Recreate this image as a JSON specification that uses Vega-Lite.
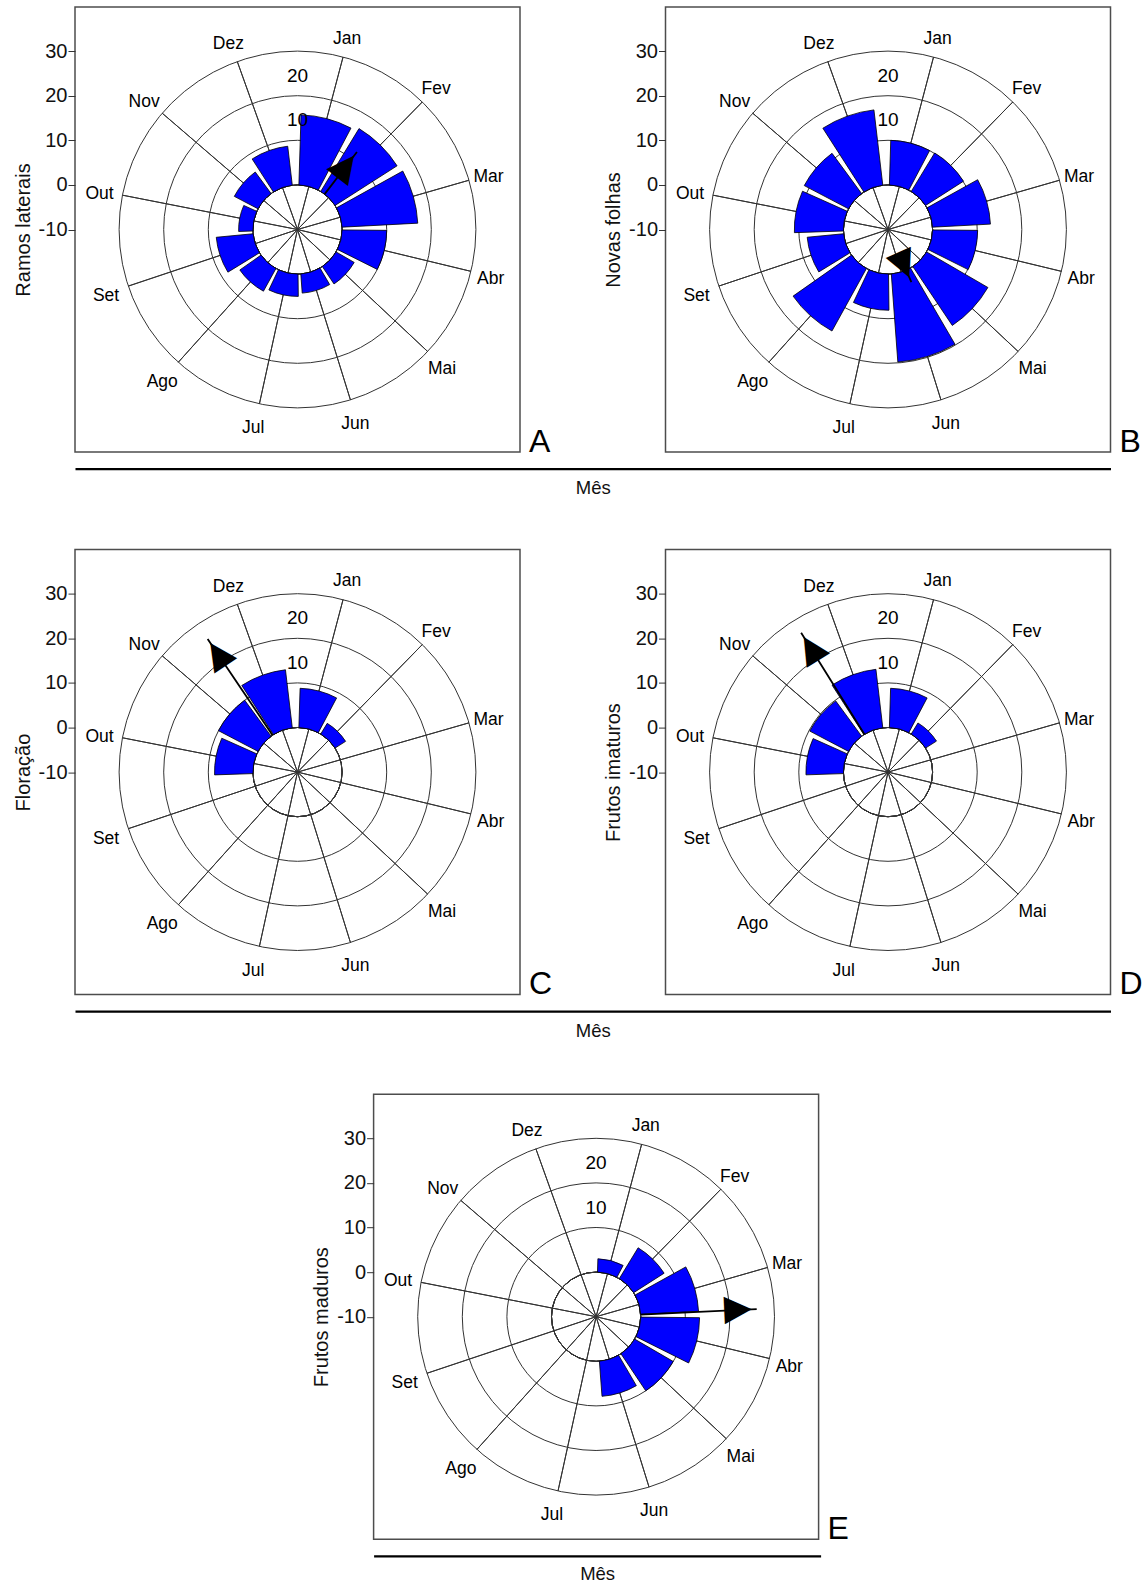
{
  "$schema": "https://vega.github.io/schema/vega-lite/v6.json",
  "padding": {"left": 12, "top": 6, "right": 0, "bottom": 0},
  "config": {
    "view": {"stroke": "#4d4d4d", "strokeWidth": 1.5},
    "font": "Liberation Sans",
    "axis": {"labelFont": "Liberation Sans", "titleFont": "Liberation Sans", "titleFontWeight": "normal", "labelColor": "#111", "titleColor": "#111"},
    "title": {"font": "Liberation Sans", "fontWeight": "normal", "color": "#000"}
  },
  "datasets": {
    "meses": [
      {"mes": "Jan", "ini": 1.8, "meio": 15, "fim": 28.2, "ramos": 15.7, "folhas": 10.0, "floracao": 8.8, "imaturos": 8.8, "maduros": 3.0},
      {"mes": "Fev", "ini": 31.8, "meio": 45, "fim": 58.2, "ramos": 16.5, "folhas": 10.1, "floracao": 2.8, "imaturos": 2.9, "maduros": 8.1},
      {"mes": "Mar", "ini": 61.8, "meio": 75, "fim": 88.2, "ramos": 17.0, "folhas": 13.0, "floracao": 0, "imaturos": 0, "maduros": 13.0},
      {"mes": "Abr", "ini": 91.8, "meio": 105, "fim": 118.2, "ramos": 10.0, "folhas": 10.1, "floracao": 0, "imaturos": 0, "maduros": 13.2},
      {"mes": "Mai", "ini": 121.8, "meio": 135, "fim": 148.2, "ramos": 4.7, "folhas": 15.9, "floracao": 0, "imaturos": 0, "maduros": 10.0},
      {"mes": "Jun", "ini": 151.8, "meio": 165, "fim": 178.2, "ramos": 4.3, "folhas": 19.8, "floracao": 0, "imaturos": 0, "maduros": 7.9},
      {"mes": "Jul", "ini": 181.8, "meio": 195, "fim": 208.2, "ramos": 5.0, "folhas": 8.1, "floracao": 0, "imaturos": 0, "maduros": 0},
      {"mes": "Ago", "ini": 211.8, "meio": 225, "fim": 238.2, "ramos": 5.8, "folhas": 16.0, "floracao": 0, "imaturos": 0, "maduros": 0},
      {"mes": "Set", "ini": 241.8, "meio": 255, "fim": 268.2, "ramos": 8.3, "folhas": 8.2, "floracao": 0, "imaturos": 0, "maduros": 0},
      {"mes": "Out", "ini": 271.8, "meio": 285, "fim": 298.2, "ramos": 3.2, "folhas": 11.0, "floracao": 8.6, "imaturos": 8.4, "maduros": 0},
      {"mes": "Nov", "ini": 301.8, "meio": 315, "fim": 328.2, "ramos": 6.0, "folhas": 11.2, "floracao": 10.0, "imaturos": 9.8, "maduros": 0},
      {"mes": "Dez", "ini": 331.8, "meio": 345, "fim": 358.2, "ramos": 8.8, "folhas": 17.0, "floracao": 13.1, "imaturos": 13.2, "maduros": 0}
    ],
    "setas": [
      {"painel": "A", "dir": 38.0, "rho": 11.9},
      {"painel": "B", "dir": 158.2, "rho": 2.9},
      {"painel": "C", "dir": 330.5, "rho": 26.0},
      {"painel": "D", "dir": 332.6, "rho": 26.8},
      {"painel": "E", "dir": 88.5, "rho": 26.05}
    ],
    "aneis": [{"r": 0}, {"r": 10}, {"r": 20}, {"r": 30}],
    "rotulos": [{"r": 10}, {"r": 20}]
  },
  "vconcat": [
    {
      "hconcat": [
        {
          "width": 445, "height": 445,
          "title": {"text": "A", "orient": "top", "anchor": "end", "frame": "group", "align": "left", "baseline": "alphabetic", "offset": -476.5, "dx": 9, "fontSize": 32},
          "layer": [
            {"data": {"values": [{}]}, "mark": {"type": "point", "opacity": 0}, "encoding": {
              "y": {"datum": 0, "type": "quantitative", "scale": {"domain": [-59.9, 39.9], "nice": false, "zero": false}, "axis": {"values": [-10, 0, 10, 20, 30], "labelExpr": "'' + datum.value", "title": "Ramos laterais", "grid": false, "domain": false, "tickSize": 7, "tickColor": "#333", "labelFontSize": 20, "labelPadding": 1, "titleFontSize": 20, "titlePadding": 5, "labelOverlap": false, "labelFlush": false}},
              "x": {"datum": 0, "type": "quantitative", "scale": {"domain": [0, 1], "range": [0, 1035.5]}, "axis": {"orient": "bottom", "offset": 16.6, "title": "Mês", "domain": true, "domainColor": "#000", "domainWidth": 2.2, "ticks": false, "labels": false, "grid": false, "titleFontSize": 18.5, "titlePadding": 10, "titleColor": "#111"}}}},
            {"data": {"name": "aneis"}, "mark": {"type": "arc", "fill": "transparent", "stroke": "#333", "strokeWidth": 1}, "encoding": {"theta": {"datum": 0, "type": "quantitative", "scale": {"domain": [0, 365]}, "stack": null}, "theta2": {"datum": 365}, "radius": {"field": "r", "type": "quantitative", "stack": null, "scale": {"type": "linear", "domain": [-10, 30], "range": [0, 178.4], "zero": false, "nice": false}}}},
            {"data": {"name": "meses"}, "mark": {"type": "arc", "fill": "transparent", "stroke": "#333", "strokeWidth": 1}, "encoding": {"theta": {"field": "meio", "type": "quantitative", "scale": {"domain": [0, 365]}, "stack": null}, "theta2": {"field": "meio"}, "radius": {"datum": 30, "type": "quantitative", "stack": null, "scale": {"type": "linear", "domain": [-10, 30], "range": [0, 178.4], "zero": false, "nice": false}}, "radius2": {"datum": -10}}},
            {"data": {"name": "meses"}, "transform": [{"filter": "datum.ramos > 0"}], "mark": {"type": "arc", "fill": "#0000ff", "stroke": "#000", "strokeWidth": 0.8}, "encoding": {"theta": {"field": "ini", "type": "quantitative", "scale": {"domain": [0, 365]}, "stack": null}, "theta2": {"field": "fim"}, "radius": {"field": "ramos", "type": "quantitative", "stack": null, "scale": {"type": "linear", "domain": [-10, 30], "range": [0, 178.4], "zero": false, "nice": false}}, "radius2": {"datum": 0}}},
            {"data": {"name": "setas"}, "transform": [{"filter": "datum.painel == 'A'"}], "mark": {"type": "arc", "fill": "transparent", "stroke": "#000", "strokeWidth": 1.8}, "encoding": {"theta": {"field": "dir", "type": "quantitative", "scale": {"domain": [0, 365]}, "stack": null}, "theta2": {"field": "dir"}, "radius": {"field": "rho", "type": "quantitative", "stack": null, "scale": {"type": "linear", "domain": [-10, 30], "range": [0, 178.4], "zero": false, "nice": false}}, "radius2": {"datum": 0}}},
            {"data": {"name": "setas"}, "transform": [{"filter": "datum.painel == 'A'"}], "mark": {"type": "text", "text": "▲", "font": "DejaVu Sans", "fontSize": 36, "align": "center", "baseline": "top", "color": "#000"}, "encoding": {"theta": {"field": "dir", "type": "quantitative", "scale": {"domain": [0, 365]}, "stack": null}, "radius": {"field": "rho", "type": "quantitative", "stack": null, "scale": {"type": "linear", "domain": [-10, 30], "range": [0, 178.4], "zero": false, "nice": false}}, "angle": {"field": "dir", "type": "quantitative", "scale": {"domain": [0, 365], "range": [0, 360]}, "legend": null}}},
            {"data": {"name": "meses"}, "mark": {"type": "text", "fontSize": 17.5, "align": "center", "baseline": "middle", "dx": -1.5, "dy": 3, "color": "#000"}, "encoding": {"theta": {"field": "meio", "type": "quantitative", "scale": {"domain": [0, 365]}, "stack": null}, "radius": {"datum": 34.9, "type": "quantitative", "stack": null, "scale": {"type": "linear", "domain": [-10, 30], "range": [0, 178.4], "zero": false, "nice": false}}, "text": {"field": "mes", "type": "nominal"}}},
            {"data": {"name": "rotulos"}, "mark": {"type": "text", "fontSize": 19, "align": "center", "baseline": "middle", "dy": -20, "color": "#000"}, "encoding": {"theta": {"datum": 0, "type": "quantitative", "scale": {"domain": [0, 365]}, "stack": null}, "radius": {"field": "r", "type": "quantitative", "stack": null, "scale": {"type": "linear", "domain": [-10, 30], "range": [0, 178.4], "zero": false, "nice": false}}, "text": {"field": "r", "type": "quantitative"}}}
          ]
        },
        {
          "width": 445, "height": 445,
          "title": {"text": "B", "orient": "top", "anchor": "end", "frame": "group", "align": "left", "baseline": "alphabetic", "offset": -476.5, "dx": 9, "fontSize": 32},
          "layer": [
            {"data": {"values": [{}]}, "mark": {"type": "point", "opacity": 0}, "encoding": {
              "y": {"datum": 0, "type": "quantitative", "scale": {"domain": [-59.9, 39.9], "nice": false, "zero": false}, "axis": {"values": [-10, 0, 10, 20, 30], "labelExpr": "'' + datum.value", "title": "Novas folhas", "grid": false, "domain": false, "tickSize": 7, "tickColor": "#333", "labelFontSize": 20, "labelPadding": 1, "titleFontSize": 20, "titlePadding": 5, "labelOverlap": false, "labelFlush": false}}}},
            {"data": {"name": "aneis"}, "mark": {"type": "arc", "fill": "transparent", "stroke": "#333", "strokeWidth": 1}, "encoding": {"theta": {"datum": 0, "type": "quantitative", "scale": {"domain": [0, 365]}, "stack": null}, "theta2": {"datum": 365}, "radius": {"field": "r", "type": "quantitative", "stack": null, "scale": {"type": "linear", "domain": [-10, 30], "range": [0, 178.4], "zero": false, "nice": false}}}},
            {"data": {"name": "meses"}, "mark": {"type": "arc", "fill": "transparent", "stroke": "#333", "strokeWidth": 1}, "encoding": {"theta": {"field": "meio", "type": "quantitative", "scale": {"domain": [0, 365]}, "stack": null}, "theta2": {"field": "meio"}, "radius": {"datum": 30, "type": "quantitative", "stack": null, "scale": {"type": "linear", "domain": [-10, 30], "range": [0, 178.4], "zero": false, "nice": false}}, "radius2": {"datum": -10}}},
            {"data": {"name": "meses"}, "transform": [{"filter": "datum.folhas > 0"}], "mark": {"type": "arc", "fill": "#0000ff", "stroke": "#000", "strokeWidth": 0.8}, "encoding": {"theta": {"field": "ini", "type": "quantitative", "scale": {"domain": [0, 365]}, "stack": null}, "theta2": {"field": "fim"}, "radius": {"field": "folhas", "type": "quantitative", "stack": null, "scale": {"type": "linear", "domain": [-10, 30], "range": [0, 178.4], "zero": false, "nice": false}}, "radius2": {"datum": 0}}},
            {"data": {"name": "setas"}, "transform": [{"filter": "datum.painel == 'B'"}], "mark": {"type": "arc", "fill": "transparent", "stroke": "#000", "strokeWidth": 1.8}, "encoding": {"theta": {"field": "dir", "type": "quantitative", "scale": {"domain": [0, 365]}, "stack": null}, "theta2": {"field": "dir"}, "radius": {"field": "rho", "type": "quantitative", "stack": null, "scale": {"type": "linear", "domain": [-10, 30], "range": [0, 178.4], "zero": false, "nice": false}}, "radius2": {"datum": 0}}},
            {"data": {"name": "setas"}, "transform": [{"filter": "datum.painel == 'B'"}], "mark": {"type": "text", "text": "▲", "font": "DejaVu Sans", "fontSize": 36, "align": "center", "baseline": "top", "color": "#000"}, "encoding": {"theta": {"field": "dir", "type": "quantitative", "scale": {"domain": [0, 365]}, "stack": null}, "radius": {"field": "rho", "type": "quantitative", "stack": null, "scale": {"type": "linear", "domain": [-10, 30], "range": [0, 178.4], "zero": false, "nice": false}}, "angle": {"field": "dir", "type": "quantitative", "scale": {"domain": [0, 365], "range": [0, 360]}, "legend": null}}},
            {"data": {"name": "meses"}, "mark": {"type": "text", "fontSize": 17.5, "align": "center", "baseline": "middle", "dx": -1.5, "dy": 3, "color": "#000"}, "encoding": {"theta": {"field": "meio", "type": "quantitative", "scale": {"domain": [0, 365]}, "stack": null}, "radius": {"datum": 34.9, "type": "quantitative", "stack": null, "scale": {"type": "linear", "domain": [-10, 30], "range": [0, 178.4], "zero": false, "nice": false}}, "text": {"field": "mes", "type": "nominal"}}},
            {"data": {"name": "rotulos"}, "mark": {"type": "text", "fontSize": 19, "align": "center", "baseline": "middle", "dy": -20, "color": "#000"}, "encoding": {"theta": {"datum": 0, "type": "quantitative", "scale": {"domain": [0, 365]}, "stack": null}, "radius": {"field": "r", "type": "quantitative", "stack": null, "scale": {"type": "linear", "domain": [-10, 30], "range": [0, 178.4], "zero": false, "nice": false}}, "text": {"field": "r", "type": "quantitative"}}}
          ]
        }
      ],
      "spacing": 145.5, "bounds": "flush"
    },
    {
      "hconcat": [
        {
          "width": 445, "height": 445,
          "title": {"text": "C", "orient": "top", "anchor": "end", "frame": "group", "align": "left", "baseline": "alphabetic", "offset": -476.5, "dx": 9, "fontSize": 32},
          "layer": [
            {"data": {"values": [{}]}, "mark": {"type": "point", "opacity": 0}, "encoding": {
              "y": {"datum": 0, "type": "quantitative", "scale": {"domain": [-59.9, 39.9], "nice": false, "zero": false}, "axis": {"values": [-10, 0, 10, 20, 30], "labelExpr": "'' + datum.value", "title": "Floração", "grid": false, "domain": false, "tickSize": 7, "tickColor": "#333", "labelFontSize": 20, "labelPadding": 1, "titleFontSize": 20, "titlePadding": 5, "labelOverlap": false, "labelFlush": false}},
              "x": {"datum": 0, "type": "quantitative", "scale": {"domain": [0, 1], "range": [0, 1035.5]}, "axis": {"orient": "bottom", "offset": 16.6, "title": "Mês", "domain": true, "domainColor": "#000", "domainWidth": 2.2, "ticks": false, "labels": false, "grid": false, "titleFontSize": 18.5, "titlePadding": 10, "titleColor": "#111"}}}},
            {"data": {"name": "aneis"}, "mark": {"type": "arc", "fill": "transparent", "stroke": "#333", "strokeWidth": 1}, "encoding": {"theta": {"datum": 0, "type": "quantitative", "scale": {"domain": [0, 365]}, "stack": null}, "theta2": {"datum": 365}, "radius": {"field": "r", "type": "quantitative", "stack": null, "scale": {"type": "linear", "domain": [-10, 30], "range": [0, 178.4], "zero": false, "nice": false}}}},
            {"data": {"name": "meses"}, "mark": {"type": "arc", "fill": "transparent", "stroke": "#333", "strokeWidth": 1}, "encoding": {"theta": {"field": "meio", "type": "quantitative", "scale": {"domain": [0, 365]}, "stack": null}, "theta2": {"field": "meio"}, "radius": {"datum": 30, "type": "quantitative", "stack": null, "scale": {"type": "linear", "domain": [-10, 30], "range": [0, 178.4], "zero": false, "nice": false}}, "radius2": {"datum": -10}}},
            {"data": {"name": "meses"}, "transform": [{"filter": "datum.floracao > 0"}], "mark": {"type": "arc", "fill": "#0000ff", "stroke": "#000", "strokeWidth": 0.8}, "encoding": {"theta": {"field": "ini", "type": "quantitative", "scale": {"domain": [0, 365]}, "stack": null}, "theta2": {"field": "fim"}, "radius": {"field": "floracao", "type": "quantitative", "stack": null, "scale": {"type": "linear", "domain": [-10, 30], "range": [0, 178.4], "zero": false, "nice": false}}, "radius2": {"datum": 0}}},
            {"data": {"name": "setas"}, "transform": [{"filter": "datum.painel == 'C'"}], "mark": {"type": "arc", "fill": "transparent", "stroke": "#000", "strokeWidth": 1.8}, "encoding": {"theta": {"field": "dir", "type": "quantitative", "scale": {"domain": [0, 365]}, "stack": null}, "theta2": {"field": "dir"}, "radius": {"field": "rho", "type": "quantitative", "stack": null, "scale": {"type": "linear", "domain": [-10, 30], "range": [0, 178.4], "zero": false, "nice": false}}, "radius2": {"datum": 0}}},
            {"data": {"name": "setas"}, "transform": [{"filter": "datum.painel == 'C'"}], "mark": {"type": "text", "text": "▲", "font": "DejaVu Sans", "fontSize": 36, "align": "center", "baseline": "top", "color": "#000"}, "encoding": {"theta": {"field": "dir", "type": "quantitative", "scale": {"domain": [0, 365]}, "stack": null}, "radius": {"field": "rho", "type": "quantitative", "stack": null, "scale": {"type": "linear", "domain": [-10, 30], "range": [0, 178.4], "zero": false, "nice": false}}, "angle": {"field": "dir", "type": "quantitative", "scale": {"domain": [0, 365], "range": [0, 360]}, "legend": null}}},
            {"data": {"name": "meses"}, "mark": {"type": "text", "fontSize": 17.5, "align": "center", "baseline": "middle", "dx": -1.5, "dy": 3, "color": "#000"}, "encoding": {"theta": {"field": "meio", "type": "quantitative", "scale": {"domain": [0, 365]}, "stack": null}, "radius": {"datum": 34.9, "type": "quantitative", "stack": null, "scale": {"type": "linear", "domain": [-10, 30], "range": [0, 178.4], "zero": false, "nice": false}}, "text": {"field": "mes", "type": "nominal"}}},
            {"data": {"name": "rotulos"}, "mark": {"type": "text", "fontSize": 19, "align": "center", "baseline": "middle", "dy": -20, "color": "#000"}, "encoding": {"theta": {"datum": 0, "type": "quantitative", "scale": {"domain": [0, 365]}, "stack": null}, "radius": {"field": "r", "type": "quantitative", "stack": null, "scale": {"type": "linear", "domain": [-10, 30], "range": [0, 178.4], "zero": false, "nice": false}}, "text": {"field": "r", "type": "quantitative"}}}
          ]
        },
        {
          "width": 445, "height": 445,
          "title": {"text": "D", "orient": "top", "anchor": "end", "frame": "group", "align": "left", "baseline": "alphabetic", "offset": -476.5, "dx": 9, "fontSize": 32},
          "layer": [
            {"data": {"values": [{}]}, "mark": {"type": "point", "opacity": 0}, "encoding": {
              "y": {"datum": 0, "type": "quantitative", "scale": {"domain": [-59.9, 39.9], "nice": false, "zero": false}, "axis": {"values": [-10, 0, 10, 20, 30], "labelExpr": "'' + datum.value", "title": "Frutos imaturos", "grid": false, "domain": false, "tickSize": 7, "tickColor": "#333", "labelFontSize": 20, "labelPadding": 1, "titleFontSize": 20, "titlePadding": 5, "labelOverlap": false, "labelFlush": false}}}},
            {"data": {"name": "aneis"}, "mark": {"type": "arc", "fill": "transparent", "stroke": "#333", "strokeWidth": 1}, "encoding": {"theta": {"datum": 0, "type": "quantitative", "scale": {"domain": [0, 365]}, "stack": null}, "theta2": {"datum": 365}, "radius": {"field": "r", "type": "quantitative", "stack": null, "scale": {"type": "linear", "domain": [-10, 30], "range": [0, 178.4], "zero": false, "nice": false}}}},
            {"data": {"name": "meses"}, "mark": {"type": "arc", "fill": "transparent", "stroke": "#333", "strokeWidth": 1}, "encoding": {"theta": {"field": "meio", "type": "quantitative", "scale": {"domain": [0, 365]}, "stack": null}, "theta2": {"field": "meio"}, "radius": {"datum": 30, "type": "quantitative", "stack": null, "scale": {"type": "linear", "domain": [-10, 30], "range": [0, 178.4], "zero": false, "nice": false}}, "radius2": {"datum": -10}}},
            {"data": {"name": "meses"}, "transform": [{"filter": "datum.imaturos > 0"}], "mark": {"type": "arc", "fill": "#0000ff", "stroke": "#000", "strokeWidth": 0.8}, "encoding": {"theta": {"field": "ini", "type": "quantitative", "scale": {"domain": [0, 365]}, "stack": null}, "theta2": {"field": "fim"}, "radius": {"field": "imaturos", "type": "quantitative", "stack": null, "scale": {"type": "linear", "domain": [-10, 30], "range": [0, 178.4], "zero": false, "nice": false}}, "radius2": {"datum": 0}}},
            {"data": {"name": "setas"}, "transform": [{"filter": "datum.painel == 'D'"}], "mark": {"type": "arc", "fill": "transparent", "stroke": "#000", "strokeWidth": 1.8}, "encoding": {"theta": {"field": "dir", "type": "quantitative", "scale": {"domain": [0, 365]}, "stack": null}, "theta2": {"field": "dir"}, "radius": {"field": "rho", "type": "quantitative", "stack": null, "scale": {"type": "linear", "domain": [-10, 30], "range": [0, 178.4], "zero": false, "nice": false}}, "radius2": {"datum": 0}}},
            {"data": {"name": "setas"}, "transform": [{"filter": "datum.painel == 'D'"}], "mark": {"type": "text", "text": "▲", "font": "DejaVu Sans", "fontSize": 36, "align": "center", "baseline": "top", "color": "#000"}, "encoding": {"theta": {"field": "dir", "type": "quantitative", "scale": {"domain": [0, 365]}, "stack": null}, "radius": {"field": "rho", "type": "quantitative", "stack": null, "scale": {"type": "linear", "domain": [-10, 30], "range": [0, 178.4], "zero": false, "nice": false}}, "angle": {"field": "dir", "type": "quantitative", "scale": {"domain": [0, 365], "range": [0, 360]}, "legend": null}}},
            {"data": {"name": "meses"}, "mark": {"type": "text", "fontSize": 17.5, "align": "center", "baseline": "middle", "dx": -1.5, "dy": 3, "color": "#000"}, "encoding": {"theta": {"field": "meio", "type": "quantitative", "scale": {"domain": [0, 365]}, "stack": null}, "radius": {"datum": 34.9, "type": "quantitative", "stack": null, "scale": {"type": "linear", "domain": [-10, 30], "range": [0, 178.4], "zero": false, "nice": false}}, "text": {"field": "mes", "type": "nominal"}}},
            {"data": {"name": "rotulos"}, "mark": {"type": "text", "fontSize": 19, "align": "center", "baseline": "middle", "dy": -20, "color": "#000"}, "encoding": {"theta": {"datum": 0, "type": "quantitative", "scale": {"domain": [0, 365]}, "stack": null}, "radius": {"field": "r", "type": "quantitative", "stack": null, "scale": {"type": "linear", "domain": [-10, 30], "range": [0, 178.4], "zero": false, "nice": false}}, "text": {"field": "r", "type": "quantitative"}}}
          ]
        }
      ],
      "spacing": 145.5, "bounds": "flush"
    },
    {
      "hconcat": [
        {"width": 1, "height": 1, "view": {"stroke": null}, "data": {"values": [{}]}, "mark": {"type": "point", "opacity": 0}},
        {
          "width": 445, "height": 445,
          "title": {"text": "E", "orient": "top", "anchor": "end", "frame": "group", "align": "left", "baseline": "alphabetic", "offset": -476.5, "dx": 9, "fontSize": 32},
          "layer": [
            {"data": {"values": [{}]}, "mark": {"type": "point", "opacity": 0}, "encoding": {
              "y": {"datum": 0, "type": "quantitative", "scale": {"domain": [-59.9, 39.9], "nice": false, "zero": false}, "axis": {"values": [-10, 0, 10, 20, 30], "labelExpr": "'' + datum.value", "title": "Frutos maduros", "grid": false, "domain": false, "tickSize": 7, "tickColor": "#333", "labelFontSize": 20, "labelPadding": 1, "titleFontSize": 20, "titlePadding": 5, "labelOverlap": false, "labelFlush": false}},
              "x": {"datum": 0, "type": "quantitative", "scale": {"domain": [0, 1], "range": [0, 447]}, "axis": {"orient": "bottom", "offset": 16.6, "title": "Mês", "domain": true, "domainColor": "#000", "domainWidth": 2.2, "ticks": false, "labels": false, "grid": false, "titleFontSize": 18.5, "titlePadding": 9, "titleColor": "#111"}}}},
            {"data": {"name": "aneis"}, "mark": {"type": "arc", "fill": "transparent", "stroke": "#333", "strokeWidth": 1}, "encoding": {"theta": {"datum": 0, "type": "quantitative", "scale": {"domain": [0, 365]}, "stack": null}, "theta2": {"datum": 365}, "radius": {"field": "r", "type": "quantitative", "stack": null, "scale": {"type": "linear", "domain": [-10, 30], "range": [0, 178.4], "zero": false, "nice": false}}}},
            {"data": {"name": "meses"}, "mark": {"type": "arc", "fill": "transparent", "stroke": "#333", "strokeWidth": 1}, "encoding": {"theta": {"field": "meio", "type": "quantitative", "scale": {"domain": [0, 365]}, "stack": null}, "theta2": {"field": "meio"}, "radius": {"datum": 30, "type": "quantitative", "stack": null, "scale": {"type": "linear", "domain": [-10, 30], "range": [0, 178.4], "zero": false, "nice": false}}, "radius2": {"datum": -10}}},
            {"data": {"name": "meses"}, "transform": [{"filter": "datum.maduros > 0"}], "mark": {"type": "arc", "fill": "#0000ff", "stroke": "#000", "strokeWidth": 0.8}, "encoding": {"theta": {"field": "ini", "type": "quantitative", "scale": {"domain": [0, 365]}, "stack": null}, "theta2": {"field": "fim"}, "radius": {"field": "maduros", "type": "quantitative", "stack": null, "scale": {"type": "linear", "domain": [-10, 30], "range": [0, 178.4], "zero": false, "nice": false}}, "radius2": {"datum": 0}}},
            {"data": {"name": "setas"}, "transform": [{"filter": "datum.painel == 'E'"}], "mark": {"type": "arc", "fill": "transparent", "stroke": "#000", "strokeWidth": 1.8}, "encoding": {"theta": {"field": "dir", "type": "quantitative", "scale": {"domain": [0, 365]}, "stack": null}, "theta2": {"field": "dir"}, "radius": {"field": "rho", "type": "quantitative", "stack": null, "scale": {"type": "linear", "domain": [-10, 30], "range": [0, 178.4], "zero": false, "nice": false}}, "radius2": {"datum": 0}}},
            {"data": {"name": "setas"}, "transform": [{"filter": "datum.painel == 'E'"}], "mark": {"type": "text", "text": "▲", "font": "DejaVu Sans", "fontSize": 36, "align": "center", "baseline": "top", "color": "#000"}, "encoding": {"theta": {"field": "dir", "type": "quantitative", "scale": {"domain": [0, 365]}, "stack": null}, "radius": {"field": "rho", "type": "quantitative", "stack": null, "scale": {"type": "linear", "domain": [-10, 30], "range": [0, 178.4], "zero": false, "nice": false}}, "angle": {"field": "dir", "type": "quantitative", "scale": {"domain": [0, 365], "range": [0, 360]}, "legend": null}}},
            {"data": {"name": "meses"}, "mark": {"type": "text", "fontSize": 17.5, "align": "center", "baseline": "middle", "dx": -1.5, "dy": 3, "color": "#000"}, "encoding": {"theta": {"field": "meio", "type": "quantitative", "scale": {"domain": [0, 365]}, "stack": null}, "radius": {"datum": 34.9, "type": "quantitative", "stack": null, "scale": {"type": "linear", "domain": [-10, 30], "range": [0, 178.4], "zero": false, "nice": false}}, "text": {"field": "mes", "type": "nominal"}}},
            {"data": {"name": "rotulos"}, "mark": {"type": "text", "fontSize": 19, "align": "center", "baseline": "middle", "dy": -20, "color": "#000"}, "encoding": {"theta": {"datum": 0, "type": "quantitative", "scale": {"domain": [0, 365]}, "stack": null}, "radius": {"field": "r", "type": "quantitative", "stack": null, "scale": {"type": "linear", "domain": [-10, 30], "range": [0, 178.4], "zero": false, "nice": false}}, "text": {"field": "r", "type": "quantitative"}}}
          ]
        }
      ],
      "spacing": 297.6, "bounds": "flush"
    }
  ],
  "spacing": 50.6
}
